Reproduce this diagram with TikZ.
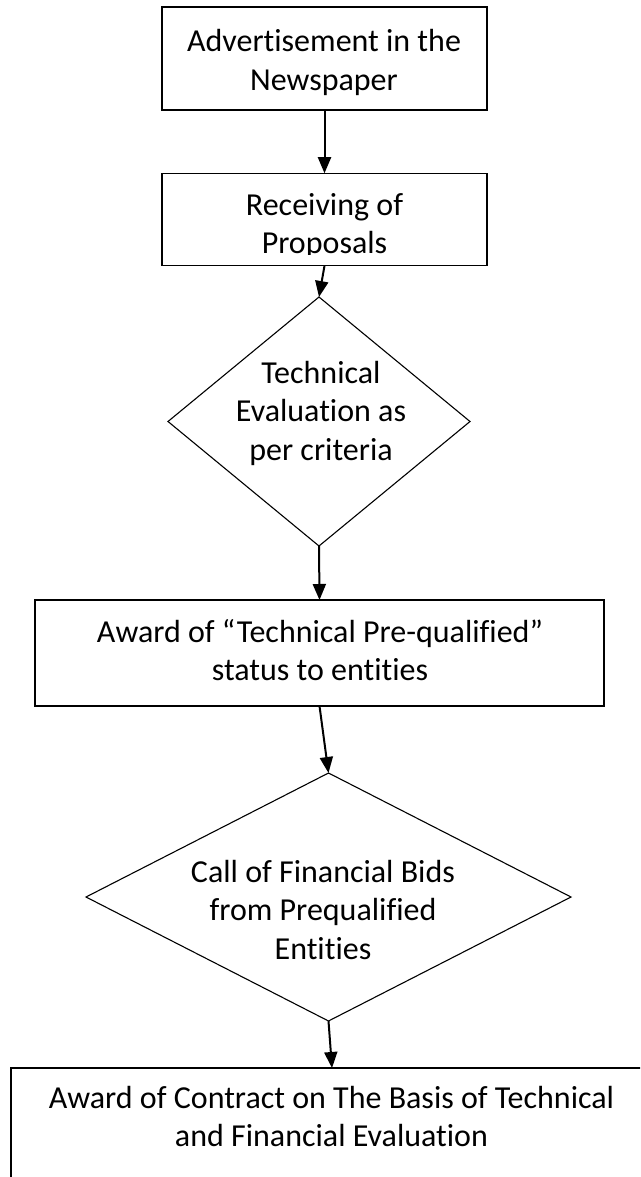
\documentclass[tikz,border=0pt]{standalone}
\usepackage{fontspec}
\setmainfont{Carlito}[Ligatures={NoCommon}]
\usetikzlibrary{shapes.geometric,arrows.meta}
\begin{document}
\begin{tikzpicture}[x=1pt,y=-1pt,
  box/.style={draw, line width=1.2pt, rectangle, inner sep=0pt, outer sep=0pt},
  dia/.style={draw, line width=1.1pt, diamond, inner sep=0pt, outer sep=0pt},
  txt/.style={inner sep=0pt, outer sep=0pt, anchor=base, font=\fontsize{32}{38.5}\selectfont},
  flow/.style={line width=2pt, -{Triangle[length=16pt,width=13pt]}}
]
\useasboundingbox (0,0) rectangle (640,1177);
\clip (0,0) rectangle (640,1177);
\fill[white] (0,0) rectangle (640,1177);

% shapes
\node[box, minimum width=325pt, minimum height=103pt] (b1) at (324.5,58.5) {};
\node[box, minimum width=325pt, minimum height=92.5pt] (b2) at (324.5,219.5) {};
\node[dia, minimum width=302pt, minimum height=249pt] (d1) at (319,421.5) {};
\node[box, minimum width=569pt, minimum height=106pt] (b3) at (319.5,653) {};
\node[dia, minimum width=485pt, minimum height=248pt] (d2) at (328.5,897) {};
\node[box, minimum width=642pt, minimum height=152pt] (b4) at (332,1144) {};

% texts
\node[txt] (t1) at (324,52) {\begin{tabular}[t]{@{}c@{}}Advertisement in the\\Newspaper\end{tabular}};
\begin{scope}
\clip (150,170) rectangle (500,254);
\node[txt] (t2) at (324.5,215) {\begin{tabular}[t]{@{}c@{}}Receiving of\\Proposals\end{tabular}};
\end{scope}
\node[txt] (t3) at (321,383) {\begin{tabular}[t]{@{}c@{}}Technical\\Evaluation as\\per criteria\end{tabular}};
\node[txt] (t4) at (320,642) {\begin{tabular}[t]{@{}c@{}}Award of “Technical Pre-qualified”\\status to entities\end{tabular}};
\node[txt] (t5) at (323,882) {\begin{tabular}[t]{@{}c@{}}Call of Financial Bids\\from Prequalified\\Entities\end{tabular}};
\node[txt] (t6) at (331.5,1108) {\begin{tabular}[t]{@{}c@{}}Award of Contract on The Basis of Technical\\and Financial Evaluation\end{tabular}};

% connectors
\draw[flow] (b1.south) -- (b2.north);
\draw[flow] (b2.south) -- (d1.north);
\draw[flow] (d1.south) -- (b3.north);
\draw[flow] (b3.south) -- (d2.north);
\draw[flow] (d2.south) -- (b4.north);
\end{tikzpicture}
\end{document}
